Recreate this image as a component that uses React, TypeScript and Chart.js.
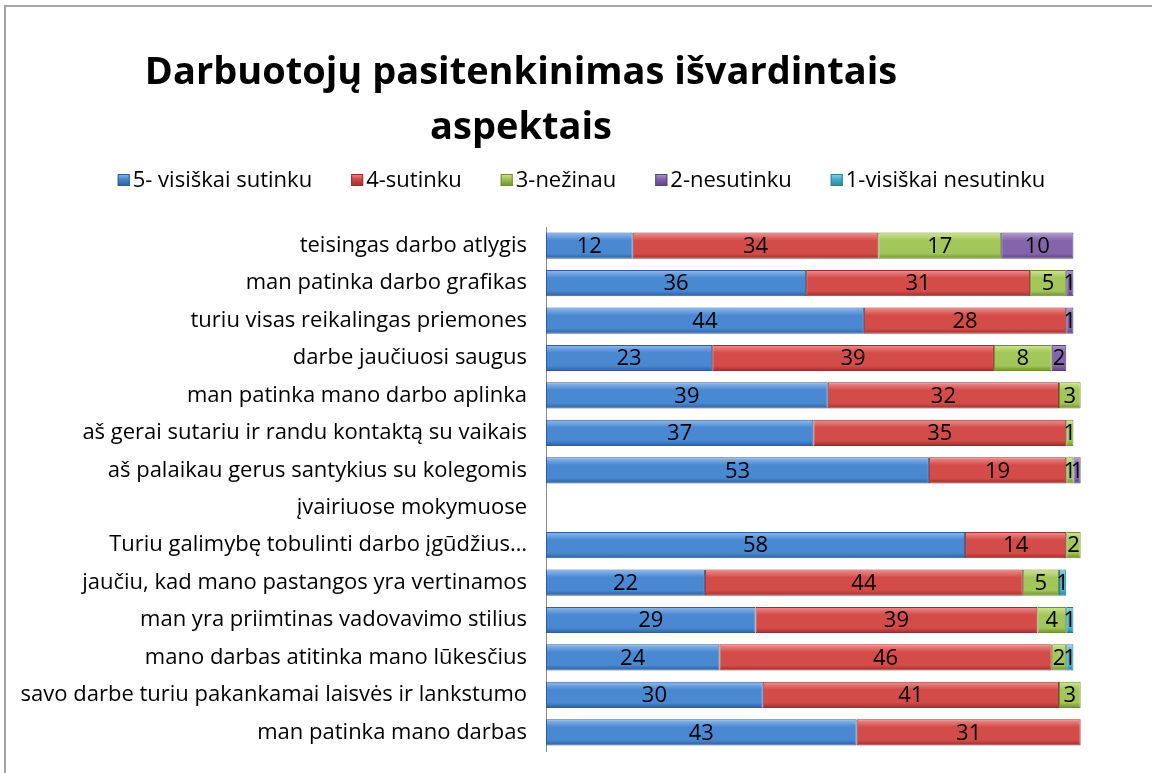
import React, { useEffect, useRef } from 'react';
import { Chart, registerables } from 'chart.js';

Chart.register(...registerables);

const titleLines = ['Darbuotojų pasitenkinimas išvardintais', 'aspektais'];

const categories = [
  'teisingas darbo atlygis',
  'man patinka darbo grafikas',
  'turiu visas reikalingas priemones',
  'darbe jaučiuosi saugus',
  'man patinka mano darbo aplinka',
  'aš gerai sutariu ir randu kontaktą su vaikais',
  'aš palaikau gerus santykius su kolegomis',
  'įvairiuose mokymuose',
  'Turiu galimybę tobulinti darbo įgūdžius…',
  'jaučiu, kad mano pastangos yra vertinamos',
  'man yra priimtinas vadovavimo stilius',
  'mano darbas atitinka mano lūkesčius',
  'savo darbe turiu pakankamai laisvės ir lankstumo',
  'man patinka mano darbas',
];

const seriesNames = ['5- visiškai sutinku', '4-sutinku', '3-nežinau', '2-nesutinku', '1-visiškai nesutinku'];

const s5 = [12, 36, 44, 23, 39, 37, 53, null, 58, 22, 29, 24, 30, 43];
const s4 = [34, 31, 28, 39, 32, 35, 19, null, 14, 44, 39, 46, 41, 31];
const s3 = [17, 5, null, 8, 3, 1, 1, null, 2, 5, 4, 2, 3, null];
const s2 = [10, 1, 1, 2, null, null, 1, null, null, null, null, null, null, null];
const s1 = [null, null, null, null, null, null, null, null, null, 1, 1, 1, null, null];

const seriesColors = ['#4a88d2', '#d44c49', '#a2c65a', '#8465ab', '#47b3cc'];
const seriesLight = ['#8fbaec', '#ee908d', '#cfe596', '#b29ad0', '#8fd6e6'];
const seriesDark = ['#2f5f9e', '#9c2f2d', '#6f8f2f', '#5a4280', '#2a8099'];

const FONT = '"Open Sans", "Noto Sans", sans-serif';
const LABEL_SIZE = 22;

function gradientFill(idx: number) {
  return (ctx: any) => {
    const chart = ctx.chart;
    const y = chart.scales?.y;
    if (!y || ctx.dataIndex == null) return seriesColors[idx];
    const c = y.getPixelForValue(ctx.dataIndex);
    if (!Number.isFinite(c)) return seriesColors[idx];
    const h = 13;
    const g = chart.ctx.createLinearGradient(0, c - h, 0, c + h);
    g.addColorStop(0, seriesLight[idx]);
    g.addColorStop(0.3, seriesColors[idx]);
    g.addColorStop(0.8, seriesColors[idx]);
    g.addColorStop(1, seriesDark[idx]);
    return g;
  };
}

const valueLabels = {
  id: 'valueLabels',
  afterDatasetsDraw(chart: any) {
    const ctx = chart.ctx;
    ctx.save();
    ctx.font = `${LABEL_SIZE}px ${FONT}`;
    ctx.fillStyle = '#000';
    ctx.textAlign = 'center';
    ctx.textBaseline = 'middle';
    chart.data.datasets.forEach((ds: any, di: number) => {
      const meta = chart.getDatasetMeta(di);
      if (meta.hidden) return;
      meta.data.forEach((el: any, i: number) => {
        const v = ds.data[i];
        if (v == null || v === 0) return;
        const p = el.getCenterPoint();
        if (!Number.isFinite(p.x) || !Number.isFinite(p.y)) return;
        ctx.fillText(String(v), p.x, p.y + 1);
      });
    });
    ctx.restore();
  },
};

const titleAndLegend = {
  id: 'titleAndLegend',
  afterDraw(chart: any) {
    const ctx = chart.ctx;
    ctx.save();
    ctx.font = `bold 38px ${FONT}`;
    ctx.fillStyle = '#000';
    ctx.textAlign = 'center';
    ctx.textBaseline = 'alphabetic';
    ctx.fillText(titleLines[0], 521, 84);
    ctx.fillText(titleLines[1], 521, 139);
    ctx.font = `${LABEL_SIZE}px ${FONT}`;
    const box = 12;
    const gap = 3;
    const spacing = 39;
    const widths = seriesNames.map((n) => ctx.measureText(n).width);
    const total = widths.reduce((a, w) => a + box + gap + w, 0) + spacing * (seriesNames.length - 1);
    let x = 581.5 - total / 2;
    const cy = 180;
    ctx.textAlign = 'left';
    ctx.textBaseline = 'middle';
    seriesNames.forEach((n, i) => {
      const g = ctx.createLinearGradient(0, cy - box / 2, 0, cy + box / 2);
      g.addColorStop(0, seriesLight[i]);
      g.addColorStop(0.4, seriesColors[i]);
      g.addColorStop(1, seriesDark[i]);
      ctx.fillStyle = g;
      ctx.fillRect(x, cy - box / 2, box, box);
      ctx.strokeStyle = seriesDark[i];
      ctx.lineWidth = 1;
      ctx.strokeRect(x + 0.5, cy - box / 2 + 0.5, box - 1, box - 1);
      ctx.fillStyle = '#000';
      ctx.fillText(n, x + box + gap, cy + 1);
      x += box + gap + widths[i] + spacing;
    });
    ctx.restore();
  },
};

export default function App() {
  const ref = useRef<HTMLCanvasElement | null>(null);

  useEffect(() => {
    if (!ref.current) return;
    const all = [s5, s4, s3, s2, s1];
    const chart = new Chart(ref.current, {
      type: 'bar',
      data: {
        labels: categories,
        datasets: all.map((d, i) => ({
          label: seriesNames[i],
          data: d,
          backgroundColor: gradientFill(i),
          borderColor: seriesDark[i],
          borderWidth: 1,
          borderSkipped: false,
          categoryPercentage: 0.7,
          barPercentage: 1,
        })),
      },
      options: {
        indexAxis: 'y',
        responsive: false,
        maintainAspectRatio: false,
        animation: false,
        layout: { padding: { top: 227, bottom: 22, left: 0, right: 28 } },
        plugins: {
          title: { display: false },
          tooltip: { enabled: false },
          legend: { display: false },
        },
        scales: {
          x: {
            stacked: true,
            min: 0,
            max: 80,
            display: false,
          },
          y: {
            stacked: true,
            grid: { display: false, drawTicks: false },
            border: { display: true, color: '#8c8c8c', width: 1 },
            ticks: {
              font: { family: FONT, size: LABEL_SIZE },
              color: '#000',
              padding: 19,
              autoSkip: false,
            },
            afterFit: (scale: any) => {
              scale.width = 546;
              scale.paddingTop = 0;
              scale.paddingBottom = 0;
            },
          },
        },
      },
      plugins: [valueLabels, titleAndLegend],
    });
    return () => chart.destroy();
  }, []);

  return (
    <div style={{ position: 'absolute', left: 0, top: 0, width: 1152, height: 773, overflow: 'hidden', background: '#fff' }}>
      <div
        style={{
          position: 'absolute',
          left: 4,
          top: 5,
          width: 1300,
          height: 900,
          border: '2px solid #a6a6a6',
          boxSizing: 'border-box',
        }}
      />
      <canvas ref={ref} width={1152} height={773} style={{ position: 'absolute', left: 0, top: 0, width: 1152, height: 773 }} />
    </div>
  );
}
